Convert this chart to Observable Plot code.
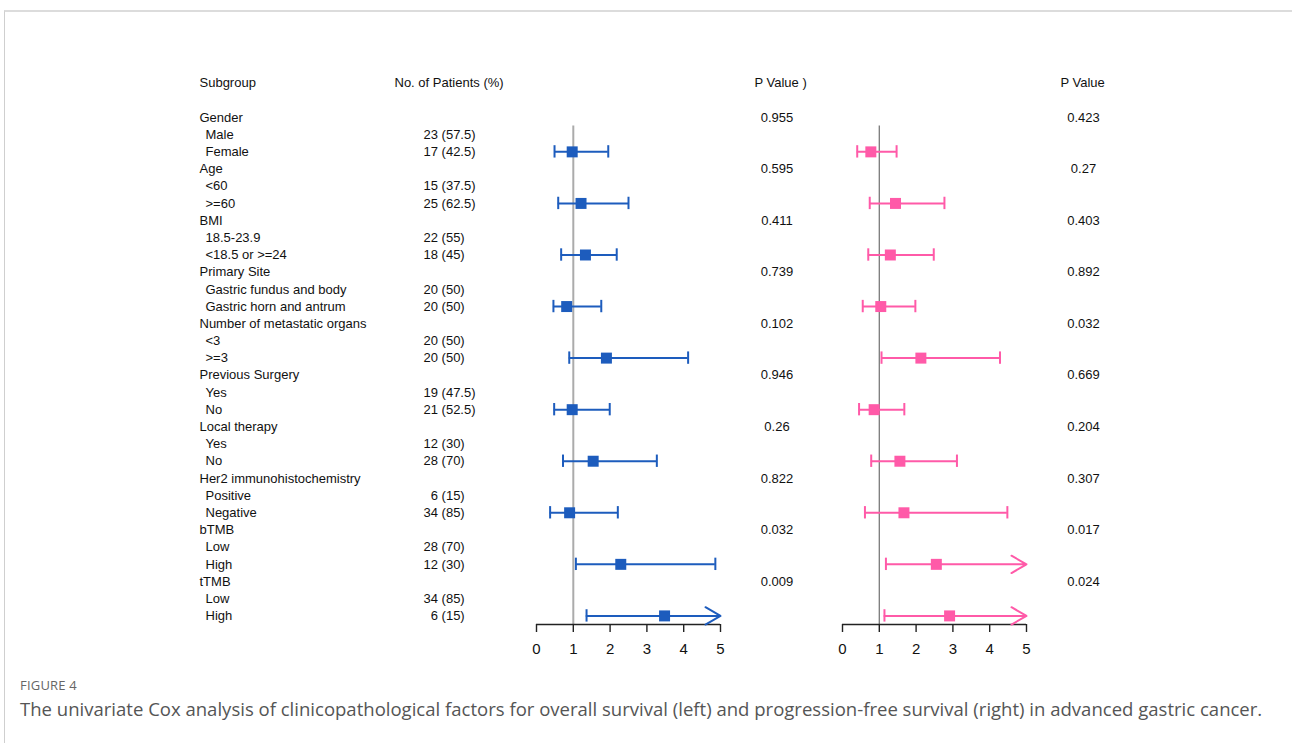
<!DOCTYPE html>
<html>
<head>
<meta charset="utf-8">
<script src="https://cdn.jsdelivr.net/npm/d3@7"></script>
<script src="https://cdn.jsdelivr.net/npm/@observablehq/plot@0.6"></script>
<style>
  html, body { margin: 0; padding: 0; background: #fff; width: 1292px; height: 743px; overflow: hidden; }
  #frame { position: absolute; left: 4px; top: 10px; width: 1300px; height: 760px;
           border-top: 2px solid #dcdcdc; border-left: 1px solid #cfcfcf; }
  .panel { position: absolute; }
  .panel svg { overflow: visible; }
  #figlabel { position: absolute; left: 20px; top: 676px; font-family: "Open Sans", sans-serif;
              font-size: 13px; color: #666; letter-spacing: 0.2px; }
  #caption { position: absolute; left: 20px; top: 696px; font-family: "Open Sans", sans-serif;
             font-size: 18.55px; color: #555; white-space: nowrap; }
</style>
</head>
<body>
<div id="frame"></div>
<div id="left" class="panel" style="left:190px; top:40px;"></div>
<div id="right" class="panel" style="left:800px; top:40px;"></div>
<div id="figlabel">FIGURE 4</div>
<div id="caption">The univariate Cox analysis of clinicopathological factors for overall survival (left) and progression-free survival (right) in advanced gastric cancer.</div>
<script>
// ---------------- data ----------------
const groups = ["Gender", "Age", "BMI", "Primary Site", "Number of metastatic organs",
  "Previous Surgery", "Local therapy", "Her2 immunohistochemistry", "bTMB", "tTMB"];
const levels = [["Male", "Female"], ["<60", ">=60"], ["18.5-23.9", "<18.5 or >=24"],
  ["Gastric fundus and body", "Gastric horn and antrum"], ["<3", ">=3"], ["Yes", "No"],
  ["Yes", "No"], ["Positive", "Negative"], ["Low", "High"], ["Low", "High"]];
const counts = [[23, 17], [15, 25], [22, 18], [20, 20], [20, 20], [19, 21], [12, 28], [6, 34], [28, 12], [34, 6]];
const pcts = [[57.5, 42.5], [37.5, 62.5], [55, 45], [50, 50], [50, 50], [47.5, 52.5], [30, 70], [15, 85], [70, 30], [85, 15]];
const pOS = ["0.955", "0.595", "0.411", "0.739", "0.102", "0.946", "0.26", "0.822", "0.032", "0.009"];
const pPFS = ["0.423", "0.27", "0.403", "0.892", "0.032", "0.669", "0.204", "0.307", "0.017", "0.024"];
const osHR = [0.97, 1.21, 1.33, 0.82, 1.90, 0.97, 1.54, 0.90, 2.29, 3.48];
const osLo = [0.49, 0.59, 0.67, 0.46, 0.89, 0.48, 0.72, 0.37, 1.07, 1.36];
const osHi = [1.95, 2.50, 2.18, 1.76, 4.12, 1.99, 3.27, 2.21, 4.86, null];   // null: beyond axis (arrow)
const pfsHR = [0.77, 1.44, 1.30, 1.04, 2.13, 0.86, 1.56, 1.67, 2.55, 2.91];
const pfsLo = [0.40, 0.74, 0.70, 0.55, 1.06, 0.45, 0.78, 0.61, 1.18, 1.14];
const pfsHi = [1.47, 2.77, 2.48, 1.98, 4.28, 1.68, 3.11, 4.48, null, null];
const xTicks = [0, 1, 2, 3, 4, 5];
const headerOS = ["Subgroup", "No. of Patients (%)", "P Value )"];
const headerPFS = "P Value";

// ---------------- derived tables ----------------
const nRows = groups.length * 3;
const groupRows = groups.map((g, i) => ({row: 3 * i, label: g, pOS: pOS[i], pPFS: pPFS[i]}));
const levelRows = levels.flatMap((lv, i) => lv.map((l, j) => ({
  row: 3 * i + 1 + j, label: l,
  n: (counts[i][j] < 10 ? "\u2007" : "") + counts[i][j] + " (" + pcts[i][j] + ")"
})));
const xMax = d3.max(xTicks);
const osData = groups.map((g, i) => ({row: 3 * i + 2, hr: osHR[i], lo: osLo[i], hi: osHi[i]}));
const pfsData = groups.map((g, i) => ({row: 3 * i + 2, hr: pfsHR[i], lo: pfsLo[i], hi: pfsHi[i]}));

const font = "'Liberation Sans', Arial, Helvetica, sans-serif";
const yDomain = [0, nRows - 0.5];

function forest(data, color, refColor, refWidth, extra, ml, mr) {
  const closed = data.filter(d => d.hi != null);
  const open = data.filter(d => d.hi == null);
  return Plot.plot({
    width: ml + 184 + mr,
    height: 629,
    marginTop: 77,
    marginBottom: 45,
    marginLeft: ml,
    marginRight: mr,
    style: {fontFamily: font, fontSize: "13px", color: "#111", background: "transparent"},
    x: {domain: [0, xMax], axis: null},
    y: {domain: yDomain, reverse: true, axis: null},
    marks: [
      Plot.ruleX([1], {y1: 0.5, y2: yDomain[1], stroke: refColor, strokeWidth: refWidth}),
      Plot.ruleY([yDomain[1]], {x1: 0, x2: xMax, stroke: "#222", strokeWidth: 1.4}),
      Plot.axisX({ticks: xTicks, tickFormat: d3.format("d"), tickSize: 8, tickPadding: 11, fontSize: 15,
        stroke: "#222", strokeWidth: 1.4}),
      Plot.ruleY(closed, {y: "row", x1: "lo", x2: "hi", stroke: color, strokeWidth: 2}),
      Plot.arrow(open, {x1: "lo", x2: () => xMax, y1: "row", y2: "row", stroke: color, strokeWidth: 2,
        headLength: 13, headAngle: 60, bend: 0}),
      Plot.ruleX(data, {x: "lo", y1: d => d.row - 0.36, y2: d => d.row + 0.36, stroke: color, strokeWidth: 2}),
      Plot.ruleX(closed, {x: "hi", y1: d => d.row - 0.36, y2: d => d.row + 0.36, stroke: color, strokeWidth: 2}),
      Plot.dot(data, {x: "hr", y: "row", symbol: "square", r: 6.2, fill: color, stroke: "none"}),
      ...extra
    ]
  });
}

const leftExtra = [
  Plot.text([headerOS[0]], {y: () => -2, text: d => d, frameAnchor: "left", dx: -337, textAnchor: "start", fontSize: 13}),
  Plot.text([headerOS[1]], {y: () => -2, text: d => d, frameAnchor: "left", dx: -142, textAnchor: "start", fontSize: 13}),
  Plot.text([headerOS[2]], {y: () => -2, text: d => d, frameAnchor: "right", dx: 34, textAnchor: "start", fontSize: 13}),
  Plot.text(groupRows, {y: "row", text: "label", frameAnchor: "left", dx: -337, textAnchor: "start", fontSize: 13}),
  Plot.text(levelRows, {y: "row", text: "label", frameAnchor: "left", dx: -331, textAnchor: "start", fontSize: 13}),
  Plot.text(levelRows, {y: "row", text: "n", frameAnchor: "left", dx: -113, textAnchor: "start", fontSize: 13}),
  Plot.text(groupRows, {y: "row", text: "pOS", frameAnchor: "right", dx: 56.5, textAnchor: "middle", fontSize: 13})
];
const rightExtra = [
  Plot.text([headerPFS], {y: () => -2, text: d => d, frameAnchor: "right", dx: 34, textAnchor: "start", fontSize: 13}),
  Plot.text(groupRows, {y: "row", text: "pPFS", frameAnchor: "right", dx: 57, textAnchor: "middle", fontSize: 13})
];

document.getElementById("left").append(forest(osData, "#1d5cbd", "#ababab", 2, leftExtra, 346, 130));
document.getElementById("right").append(forest(pfsData, "#ff5aa8", "#7a7a7a", 1.3, rightExtra, 42, 110));
</script>
</body>
</html>
